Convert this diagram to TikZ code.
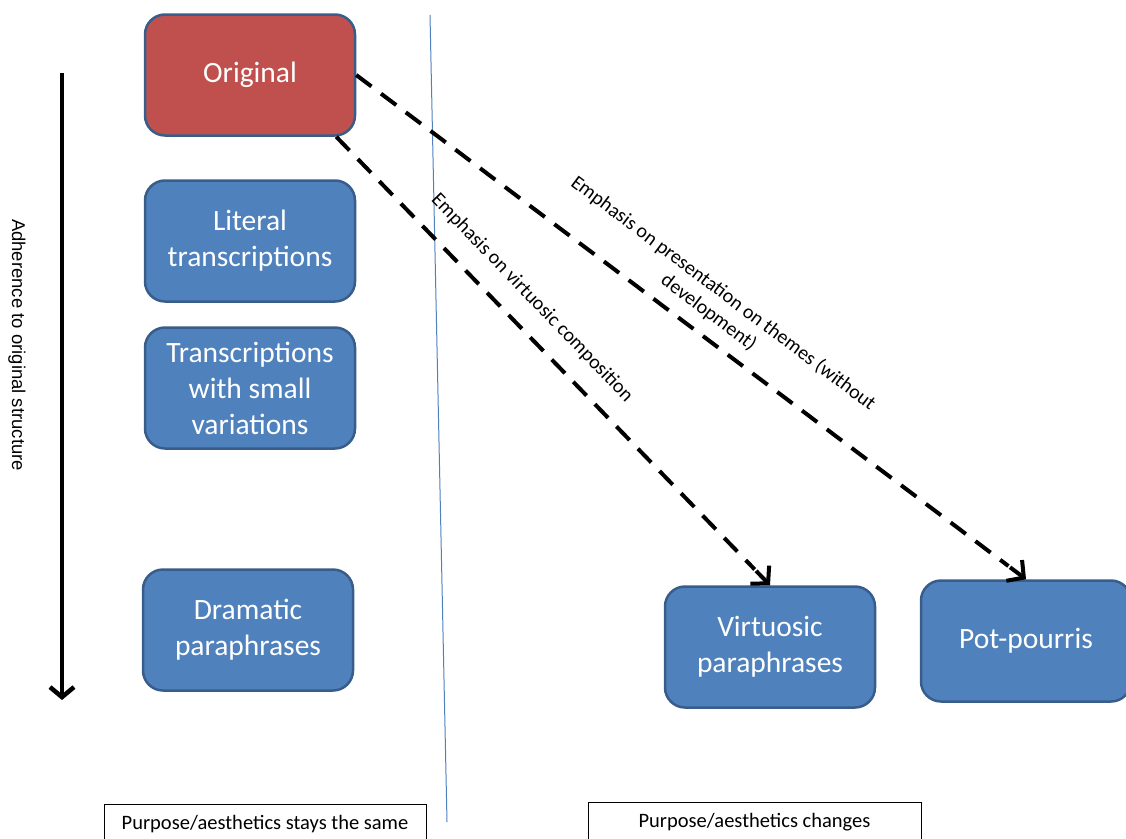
\documentclass[tikz,border=0pt]{standalone}
\usepackage{fontspec}
\setmainfont{Carlito}
\newfontfamily\arialfont{Liberation Sans}
\definecolor{boxblue}{HTML}{4F81BD}
\definecolor{boxedge}{HTML}{385D8A}
\definecolor{boxred}{HTML}{C0504D}
\usetikzlibrary{arrows.meta,calc}

\begin{document}
\begin{tikzpicture}[x=1pt, y=-1pt,
  formbox/.style={draw=boxedge, line width=2.5pt, fill=boxblue, rounded corners=20pt,
    minimum width=210pt, minimum height=121pt, align=center, text=white,
    font=\fontsize{29.5}{36}\selectfont},
  aimbox/.style={draw=black, line width=0.8pt, minimum height=40pt, inner sep=0pt,
    font=\fontsize{20.5}{24}\selectfont},
  emphlink/.style={black, line width=4pt, dash pattern=on 19pt off 12pt},
  emphtip/.style={black, line width=4pt, -{Straight Barb[length=12pt, width=26pt]}},
  emphlabel/.style={align=center, font=\fontsize{20}{24}\selectfont}]

\useasboundingbox (0,0) rectangle (1126,838);

% --- Adherence axis ---
\coordinate (axistop) at (62,73);
\coordinate (axisbot) at (62,700);
\draw[black, line width=4.5pt, -{Straight Barb[length=10pt, width=24pt]}] (axistop) -- (axisbot);
\node[rotate=-90, font=\arialfont\fontsize{18.5}{22}\selectfont] (axislabel) at (17,345)
  {Adherence to original structure};

% --- Divider ---
\coordinate (divtop) at (430,15);
\coordinate (divbot) at (447,822);
\draw[boxblue, line width=1pt] (divtop) -- (divbot);

% --- Forms ---
\node[formbox, fill=boxred] (orig) at (250,75) {Original};
\node[formbox] (literal) at (250,241) {Literal\\transcriptions};
\node[formbox] (smallvar) at (250,388) {Transcriptions\\with small\\variations};
\node[formbox] (dramatic) at (248,630) {Dramatic\\paraphrases};
\node[formbox] (virt) at (770,647) {Virtuosic\\paraphrases};
\node[formbox] (potp) at (1026,641) {Pot-pourris};

% --- Emphasis arrows ---
\coordinate (virtstart) at ([xshift=-20pt]orig.south east);
\draw[emphlink] (orig.east) -- ($(potp.north)!22pt!(orig.east)$);
\draw[emphtip] ($(potp.north)!20pt!(orig.east)$) -- (potp.north);
\draw[emphlink] (virtstart) -- ($(virt.north)!22pt!(virtstart)$);
\draw[emphtip] ($(virt.north)!20pt!(virtstart)$) -- (virt.north);
\node[emphlabel, rotate=-37] (themes) at (716,303)
  {Emphasis on presentation on themes (without\\development)};
\node[emphlabel, rotate=-46] (virtcomp) at (532,298) {Emphasis on virtuosic composition};

% --- Purpose boxes ---
\node[aimbox, minimum width=322pt] (same) at (265,824) {Purpose/aesthetics stays the same};
\node[aimbox, minimum width=333pt] (changes) at (754.5,822) {Purpose/aesthetics changes};

\end{tikzpicture}
\end{document}
